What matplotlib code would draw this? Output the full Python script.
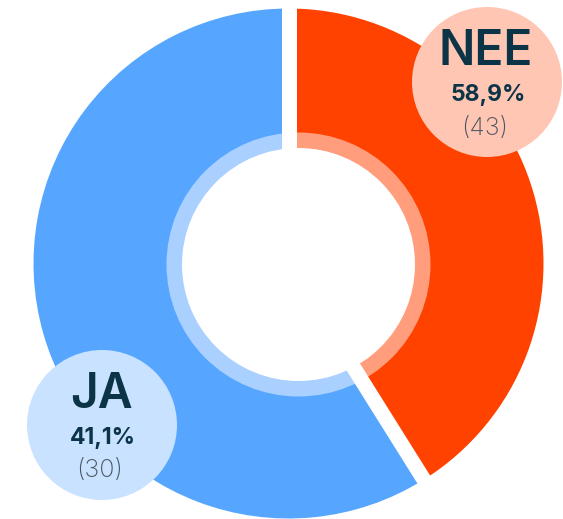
import matplotlib
matplotlib.use("Agg")
import matplotlib.pyplot as plt
from matplotlib.patches import Circle
import numpy as np

# data
categories = ["NEE", "JA"]
counts = [43, 30]
pct_labels = ["58,9%", "41,1%"]

# look
wedge_colors = ["#56A6FF", "#FF4200"]
ring_colors = ["#AAD0FF", "#FF9D7D"]
bubble_colors = ["#FFC6B4", "#C9E2FF"]
dark = "#0B3447"
W, H = 563, 519

plt.rcParams["font.family"] = ["Inter", "DejaVu Sans"]

fig = plt.figure(figsize=(W / 100, H / 100), dpi=100)
ax = fig.add_axes([0, 0, 1, 1])

center = (288.5, H - 263.5)
ring_center = (298.5, H - 264.5)
R = 255

wedges, _ = ax.pie(counts, colors=wedge_colors, startangle=90, counterclock=True,
                   radius=R, center=center, wedgeprops=dict(linewidth=0))

# lighter inner ring, clipped to each wedge
for w, c in zip(wedges, ring_colors):
    ring = Circle(ring_center, 132, facecolor=c, edgecolor="none", zorder=3)
    ax.add_patch(ring)
    ring.set_clip_path(w)
ax.add_patch(Circle(ring_center, 116.5, facecolor="white", edgecolor="none", zorder=4))

# white gaps between the slices
for w in wedges:
    a = np.deg2rad(w.theta1)
    ax.plot([center[0], center[0] + (R + 20) * np.cos(a)],
            [center[1], center[1] + (R + 20) * np.sin(a)],
            color="white", lw=10.8, solid_capstyle="butt", zorder=5)

# label bubbles (NEE top right, JA bottom left)
bubble_pos = [(487, H - 82), (102, H - 425)]
for i, (bx, by) in enumerate(bubble_pos):
    ax.add_patch(Circle((bx, by), 75, facecolor=bubble_colors[i], edgecolor="none", zorder=6))
    ax.text(bx - 1, by + 30, categories[i], ha="center", va="center", fontsize=34.5,
            fontweight="semibold", color=dark, zorder=7)
    ax.text(bx + 1, by - 13, pct_labels[i], ha="center", va="center", fontsize=16.5,
            fontweight="bold", color=dark, zorder=7)
    ax.text(bx - 2, by - 46, "(%d)" % counts[i], ha="center", va="center", fontsize=18,
            fontweight="light", color="#4A5560", zorder=7)

ax.set_xlim(0, W)
ax.set_ylim(0, H)
ax.set_aspect("auto")
ax.axis("off")
fig.savefig("out.png", dpi=100)
